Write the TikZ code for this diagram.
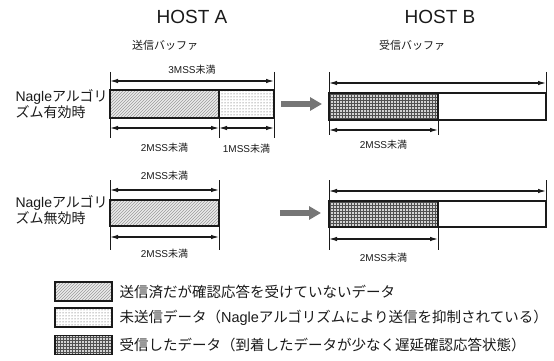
\documentclass[tikz,border=0pt]{standalone}
\usepackage{fontspec}
\setmainfont{Liberation Sans}
\newfontfamily\jp{Noto Sans CJK JP}
\usetikzlibrary{arrows.meta,positioning,patterns,calc}
\definecolor{inkblack}{HTML}{1A1A1A}
\definecolor{sentgray}{HTML}{9A9A9A}
\definecolor{unsentgray}{HTML}{3C3C3C}
\definecolor{recvgray}{HTML}{505050}
\definecolor{flowgray}{HTML}{767676}
\tikzset{
  >=Latex,
  host/.style={font=\fontsize{19}{21}\selectfont, text=inkblack},
  bufname/.style={font=\jp\fontsize{11}{13}\selectfont, text=inkblack},
  nagle/.style={font=\fontsize{14}{16}\selectfont, align=left, anchor=west, text=inkblack},
  mss/.style={font=\fontsize{10}{12}\selectfont, text=inkblack},
  buffer/.style={rectangle, draw=inkblack, line width=1.8pt, inner sep=0pt, outer sep=0pt},
  sentpart/.style={buffer, preaction={fill=sentgray!20}, pattern=north east lines, pattern color=sentgray},
  unsentpart/.style={buffer, pattern=dots, pattern color=unsentgray},
  recvpart/.style={buffer, preaction={fill=recvgray!25}, pattern=grid, pattern color=recvgray},
  freepart/.style={buffer, fill=white},
  guide/.style={line width=0.9pt, draw=inkblack},
  dimarrow/.style={{Latex[length=8pt,width=4.5pt]}-{Latex[length=8pt,width=4.5pt]}, line width=1.1pt, draw=inkblack},
  flow/.style={-{Triangle[length=12pt,width=13pt]}, line width=6pt, draw=flowgray},
  keytext/.style={font=\jp\fontsize{14.5}{16}\selectfont, text=inkblack}
}

\begin{document}
\begin{tikzpicture}[x=1pt, y=-1pt]
\useasboundingbox (0,0) rectangle (554,361);
% headings
\node[host] (hostA) at (192,17) {HOST A};
\node[host] (hostB) at (440,17) {HOST B};
\node[bufname] (sbuf) at (165,45) {送信バッファ};
\node[bufname] (rbuf) at (412,45) {受信バッファ};
\node[nagle] (nagleon) at (12,104) {Nagle{\jp アルゴリ}\\{\jp ズム有効時}};
\node[nagle] (nagleoff) at (12,210) {Nagle{\jp アルゴリ}\\{\jp ズム無効時}};

% Nagle on: send buffer
\node[sentpart, minimum width=109pt, minimum height=28pt] (a1s) at (164.5,104) {};
\node[unsentpart, minimum width=55pt, minimum height=28pt] (a1u) at (246.5,104) {};
\draw[guide] ($(a1s.north west)+(0,-18)$) -- ($(a1s.south west)+(0,20)$);
\draw[guide] ($(a1u.north east)+(0,-18)$) -- ($(a1u.south east)+(0,20)$);
\draw[guide] (a1s.south east) -- ($(a1s.south east)+(0,20)$);
\draw[dimarrow] ($(a1s.north west)+(0,-9)$) -- ($(a1u.north east)+(0,-9)$)
  node[mss, midway, yshift=11pt] {3MSS{\jp 未満}};
\draw[dimarrow] ($(a1s.south west)+(0,10)$) -- ($(a1s.south east)+(0,10)$)
  node[mss, midway, yshift=-20pt] {2MSS{\jp 未満}};
\draw[dimarrow] ($(a1u.south west)+(0,10)$) -- ($(a1u.south east)+(0,10)$)
  node[mss, midway, yshift=-21pt] {1MSS{\jp 未満}};

% Nagle on: receive buffer
\node[recvpart, minimum width=109pt, minimum height=27pt] (b1r) at (383.5,106.5) {};
\node[freepart, minimum width=108pt, minimum height=27pt] (b1e) at (492,106.5) {};
\draw[guide] ($(b1r.north west)+(0,-21)$) -- ($(b1r.south west)+(0,15)$);
\draw[guide] ($(b1e.north east)+(0,-21)$) -- (b1e.north east);
\draw[guide] (b1r.south east) -- ($(b1r.south east)+(0,15)$);
\draw[dimarrow] ($(b1r.north west)+(0,-10)$) -- ($(b1e.north east)+(0,-10)$);
\draw[dimarrow] ($(b1r.south west)+(0,10)$) -- ($(b1r.south east)+(0,10)$)
  node[mss, midway, yshift=-15pt] {2MSS{\jp 未満}};
\draw[flow, shorten <=7pt, shorten >=7pt] (a1u.east) -- (a1u.east -| b1r.west);

% Nagle off: send buffer
\node[sentpart, minimum width=109pt, minimum height=26pt] (a2s) at (164.5,213) {};
\draw[guide] ($(a2s.north west)+(0,-20)$) -- ($(a2s.south west)+(0,24)$);
\draw[guide] ($(a2s.north east)+(0,-20)$) -- ($(a2s.south east)+(0,24)$);
\draw[dimarrow] ($(a2s.north west)+(0,-10)$) -- ($(a2s.north east)+(0,-10)$)
  node[mss, midway, yshift=14pt] {2MSS{\jp 未満}};
\draw[dimarrow] ($(a2s.south west)+(0,11)$) -- ($(a2s.south east)+(0,11)$)
  node[mss, midway, yshift=-17pt] {2MSS{\jp 未満}};

% Nagle off: receive buffer
\node[recvpart, minimum width=109pt, minimum height=26pt] (b2r) at (383.5,214) {};
\node[freepart, minimum width=108pt, minimum height=26pt] (b2e) at (492,214) {};
\draw[guide] ($(b2r.north west)+(0,-21)$) -- ($(b2r.south west)+(0,23)$);
\draw[guide] ($(b2e.north east)+(0,-21)$) -- (b2e.north east);
\draw[guide] (b2r.south east) -- ($(b2r.south east)+(0,23)$);
\draw[dimarrow] ($(b2r.north west)+(0,-10)$) -- ($(b2e.north east)+(0,-10)$);
\draw[dimarrow] ($(b2r.south west)+(0,12)$) -- ($(b2r.south east)+(0,12)$)
  node[mss, midway, yshift=-19pt] {2MSS{\jp 未満}};
\draw[flow, shorten <=61pt, shorten >=8pt] (a2s.east) -- (a2s.east -| b2r.west);

% legend
\node[sentpart, minimum width=57pt, minimum height=19pt] (key1) at (83.5,291.5) {};
\node[unsentpart, minimum width=57pt, minimum height=19pt] (key2) at (83.5,317.5) {};
\node[recvpart, minimum width=57pt, minimum height=19pt] (key3) at (83.5,345) {};
\node[keytext, right=4pt of key1] (keytxt1) {送信済だが確認応答を受けていないデータ};
\node[keytext, right=4pt of key2] (keytxt2) {未送信データ（{\rmfamily Nagle}アルゴリズムにより送信を抑制されている）};
\node[keytext, right=4pt of key3] (keytxt3) {受信したデータ（到着したデータが少なく遅延確認応答状態）};
\end{tikzpicture}
\end{document}
